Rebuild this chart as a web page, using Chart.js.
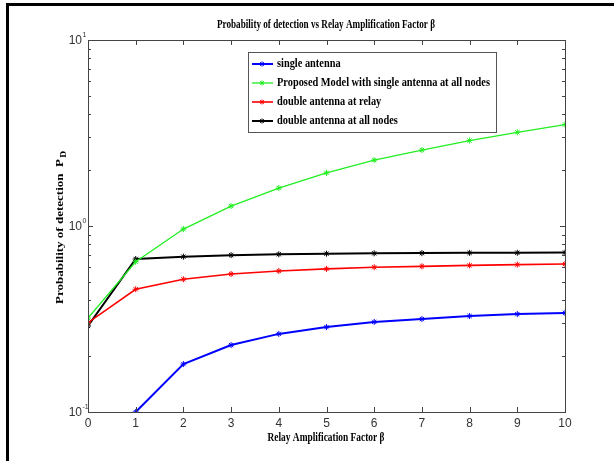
<!DOCTYPE html>
<html>
<head>
<meta charset="utf-8">
<script src="https://cdn.jsdelivr.net/npm/chart.js@4.4.1/dist/chart.umd.min.js"></script>
<style>
  html, body { margin: 0; padding: 0; background: #fff; }
  #c { display: block; }
</style>
</head>
<body>
<canvas id="c" width="614" height="461"></canvas>
<script>
// data
const betas = [0, 1, 2, 3, 4, 5, 6, 7, 8, 9, 10];
const singleAntenna = [null, 0.100, 0.181, 0.229, 0.263, 0.286, 0.305, 0.316, 0.328, 0.336, 0.341];
const proposedModel = [0.320, 0.642, 0.963, 1.28, 1.60, 1.93, 2.26, 2.56, 2.88, 3.19, 3.51];
const doubleRelay = [0.302, 0.457, 0.517, 0.552, 0.573, 0.588, 0.600, 0.607, 0.614, 0.620, 0.625];
const doubleAll = [0.290, 0.665, 0.684, 0.697, 0.705, 0.710, 0.713, 0.715, 0.717, 0.718, 0.720];
const yTicks = [0.1, 1, 10];
const yTickExp = ["-1", "0", "1"];

const seriesNames = [
  "single antenna",
  "Proposed Model with single antenna at all nodes",
  "double antenna at relay",
  "double antenna at all nodes"
];
const seriesColors = ["#0000ff", "#22ee22", "#ff0000", "#000000"];
const seriesWidths = [2, 1.3, 1.6, 2];

function pts(vals) {
  return betas.map((b, i) => ({ x: b, y: vals[i] }));
}

const allSeries = [singleAntenna, proposedModel, doubleRelay, doubleAll];

const datasets = allSeries.map((vals, i) => ({
  label: seriesNames[i],
  data: pts(vals),
  borderColor: seriesColors[i],
  backgroundColor: seriesColors[i],
  borderWidth: seriesWidths[i],
  pointStyle: "star",
  pointRadius: 3,
  pointBorderWidth: 1,
  tension: 0,
  spanGaps: false
}));

const serif = "'Liberation Serif', 'Times New Roman', serif";
const sans = "'Liberation Sans', Arial, sans-serif";

// squeeze Times text a bit, the matlab figure looks condensed
function squeezed(ctx, txt, x, y, sx) {
  ctx.save();
  ctx.translate(x, y);
  ctx.scale(sx, 1);
  ctx.fillText(txt, 0, 0);
  ctx.restore();
}

const decor = {
  id: "decor",
  afterDraw(chart) {
    const ctx = chart.ctx;
    const a = chart.chartArea;
    const xs = chart.scales.x;
    const ys = chart.scales.y;

    ctx.save();

    // outer frame (top + left only)
    ctx.strokeStyle = "#000";
    ctx.lineWidth = 3;
    ctx.beginPath();
    ctx.moveTo(6, 4.5);
    ctx.lineTo(614, 4.5);
    ctx.moveTo(7.5, 3);
    ctx.lineTo(7.5, 461);
    ctx.stroke();

    // axis box
    ctx.strokeStyle = "#444";
    ctx.lineWidth = 1;
    ctx.strokeRect(a.left + 0.5, a.top + 0.5, a.right - a.left, a.bottom - a.top);

    // inward ticks on x
    ctx.beginPath();
    betas.forEach(b => {
      const px = Math.round(xs.getPixelForValue(b)) + 0.5;
      ctx.moveTo(px, a.bottom);
      ctx.lineTo(px, a.bottom - 5);
      ctx.moveTo(px, a.top);
      ctx.lineTo(px, a.top + 5);
    });
    // log ticks on y, majors and minors
    for (let d = 0.1; d < 10; d *= 10) {
      for (let m = 1; m <= 10; m++) {
        const v = d * m;
        const py = Math.round(ys.getPixelForValue(v)) + 0.5;
        const len = (m === 1 || m === 10) ? 5 : 3;
        ctx.moveTo(a.left, py);
        ctx.lineTo(a.left + len, py);
        ctx.moveTo(a.right, py);
        ctx.lineTo(a.right - len, py);
      }
    }
    ctx.stroke();

    // y tick labels 10^n
    ctx.fillStyle = "#333";
    yTicks.forEach((v, i) => {
      const py = ys.getPixelForValue(v);
      ctx.font = "12px " + sans;
      ctx.textAlign = "right";
      ctx.textBaseline = "middle";
      ctx.fillText("10", a.left - 6, py + 1);
      ctx.font = "7px " + sans;
      ctx.textAlign = "left";
      ctx.fillText(yTickExp[i], a.left - 5.5, py - 5);
    });

    ctx.fillStyle = "#000";
    ctx.textBaseline = "middle";
    ctx.textAlign = "center";

    // title
    ctx.font = "bold 12.5px " + serif;
    const title = "Probability of detection vs Relay Amplification Factor \u03b2";
    squeezed(ctx, title, 326, 25, 218 / ctx.measureText(title).width);

    // x axis title
    const xlab = "Relay Amplification Factor \u03b2";
    squeezed(ctx, xlab, 326, 438, 117 / ctx.measureText(xlab).width);

    // y axis title with subscript D
    ctx.save();
    ctx.translate(60, 228);
    ctx.rotate(-Math.PI / 2);
    ctx.font = "bold 11px " + serif;
    const main = "Probability of detection  P";
    const full = ctx.measureText(main).width;
    ctx.scale(145 / full, 1);
    ctx.textAlign = "left";
    ctx.fillText(main, -full / 2 - 3, 0);
    ctx.font = "bold 8px " + serif;
    ctx.fillText("D", full / 2 - 2, 4);
    ctx.restore();

    // legend
    const lx = 248, ly = 52, lw = 248, lh = 80;
    ctx.fillStyle = "#fff";
    ctx.fillRect(lx, ly, lw, lh);
    ctx.strokeStyle = "#555";
    ctx.lineWidth = 1;
    ctx.strokeRect(lx + 0.5, ly + 0.5, lw, lh);
    const rows = [64, 83, 102, 121];
    ctx.font = "bold 12px " + serif;
    const legScale = 213 / ctx.measureText(seriesNames[1]).width;
    chart.data.datasets.forEach((ds, i) => {
      const y = rows[i];
      ctx.strokeStyle = ds.borderColor;
      ctx.lineWidth = ds.borderWidth;
      ctx.beginPath();
      ctx.moveTo(252, y);
      ctx.lineTo(273, y);
      ctx.stroke();
      ctx.lineWidth = 1;
      ctx.fillStyle = ds.borderColor;
      Chart.helpers.drawPoint(ctx, { pointStyle: "star", radius: 2.5, borderWidth: 1, rotation: 0 }, 262, y);
      ctx.fillStyle = "#000";
      ctx.font = "bold 12px " + serif;
      ctx.textAlign = "left";
      ctx.textBaseline = "middle";
      squeezed(ctx, ds.label, 277, y, legScale);
    });

    ctx.restore();
  }
};

new Chart(document.getElementById("c"), {
  type: "line",
  data: { datasets: datasets },
  options: {
    responsive: false,
    animation: false,
    devicePixelRatio: 1,
    layout: { padding: { top: 40, right: 49, left: 0, bottom: 0 } },
    plugins: {
      legend: { display: false },
      title: { display: false },
      tooltip: { enabled: false }
    },
    scales: {
      x: {
        type: "linear",
        min: 0,
        max: 10,
        grid: { display: false, drawTicks: false },
        border: { display: false },
        ticks: {
          stepSize: 1,
          padding: 4,
          color: "#333",
          font: { family: sans, size: 12 }
        },
        afterFit(s) { s.height = 49; }
      },
      y: {
        type: "logarithmic",
        min: 0.1,
        max: 10,
        grid: { display: false, drawTicks: false },
        border: { display: false },
        ticks: { display: false },
        afterFit(s) { s.width = 88; }
      }
    }
  },
  plugins: [decor]
});
</script>
</body>
</html>
